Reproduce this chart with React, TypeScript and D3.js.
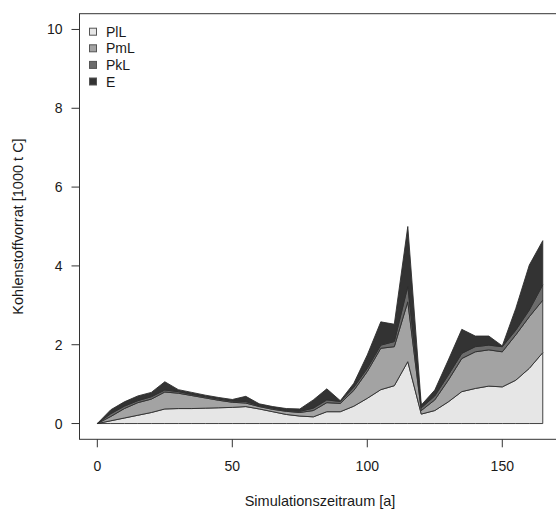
import React from "react";
import * as d3 from "d3";

// Simulation years (every 5 years)
const years = [
  0, 5, 10, 15, 20, 25, 30, 35, 40, 45, 50, 55, 60, 65, 70, 75, 80, 85, 90, 95,
  100, 105, 110, 115, 120, 125, 130, 135, 140, 145, 150, 155, 160, 165,
];

// Carbon stock per pool [1000 t C]
const PlL = [
  0, 0.07, 0.14, 0.21, 0.28, 0.37, 0.38, 0.38, 0.39, 0.4, 0.41, 0.43, 0.37, 0.3,
  0.23, 0.19, 0.17, 0.3, 0.3, 0.44, 0.64, 0.86, 0.96, 1.57, 0.24, 0.33, 0.55,
  0.81, 0.89, 0.95, 0.93, 1.1, 1.4, 1.8,
];
const PmL = [
  0, 0.11, 0.24, 0.32, 0.34, 0.43, 0.39, 0.33, 0.26, 0.19, 0.13, 0.09, 0.06,
  0.06, 0.08, 0.09, 0.16, 0.23, 0.21, 0.4, 0.68, 1.05, 0.99, 1.52, 0.09, 0.27,
  0.55, 0.84, 0.93, 0.92, 0.89, 1.15, 1.31, 1.33,
];
const PkL = [
  0, 0.07, 0.06, 0.05, 0.06, 0.05, 0.04, 0.03, 0.03, 0.03, 0.03, 0.04, 0.02,
  0.03, 0.02, 0.03, 0.06, 0.07, 0.05, 0.08, 0.08, 0.08, 0.13, 0.39, 0.07, 0.1,
  0.13, 0.13, 0.13, 0.12, 0.13, 0.12, 0.17, 0.39,
];
const E = [
  0, 0.1, 0.11, 0.12, 0.11, 0.21, 0.05, 0.05, 0.04, 0.04, 0.04, 0.13, 0.05,
  0.04, 0.05, 0.06, 0.21, 0.28, 0.02, 0.1, 0.34, 0.59, 0.44, 1.52, 0.07, 0.15,
  0.38, 0.61, 0.27, 0.23, 0.02, 0.55, 1.14, 1.12,
];

const seriesNames = ["PlL", "PmL", "PkL", "E"];
const seriesColors = ["#e6e6e6", "#a3a3a3", "#6b6b6b", "#333333"];

const xTicks = [0, 50, 100, 150];
const yTicks = [0, 2, 4, 6, 8, 10];

const W = 556;
const H = 512;
const font = "'Liberation Sans', Arial, Helvetica, sans-serif";

export default function App() {
  const x = d3.scaleLinear().domain([-6.6, 171.6]).range([79.5, 560.6]);
  const y = d3.scaleLinear().domain([-0.4, 10.4]).range([439.3, 13.7]);

  const rows = years.map((t, i) => ({
    t,
    PlL: PlL[i],
    PmL: PmL[i],
    PkL: PkL[i],
    E: E[i],
  }));
  const stacked = d3.stack<any>().keys(seriesNames)(rows);

  const area = d3
    .area<any>()
    .x((d) => x(d.data.t))
    .y0((d) => y(d[0]))
    .y1((d) => y(d[1]));

  const left = x.range()[0];
  const right = x.range()[1];
  const top = y.range()[1];
  const bottom = y.range()[0];

  return (
    <svg
      width={W}
      height={H}
      style={{ position: "absolute", left: 0, top: 0, background: "#fff" }}
      fontFamily={font}
    >
      {/* stacked pools, drawn bottom to top */}
      {stacked.map((layer, i) => (
        <path
          key={layer.key}
          d={(area(layer) || "") + "Z"}
          fill={seriesColors[i]}
          stroke="#2e2e2e"
          strokeWidth={0.9}
          strokeLinejoin="miter"
        />
      ))}

      {/* plot frame */}
      <rect
        x={left}
        y={top}
        width={right - left}
        height={bottom - top}
        fill="none"
        stroke="#333"
        strokeWidth={1}
      />

      {/* y axis */}
      {yTicks.map((v) => (
        <g key={"y" + v}>
          <line
            x1={left - 8}
            x2={left}
            y1={y(v)}
            y2={y(v)}
            stroke="#333"
            strokeWidth={1}
          />
          <text
            x={left - 17}
            y={y(v)}
            textAnchor="end"
            dominantBaseline="central"
            fontSize={14}
            fill="#1a1a1a"
          >
            {v}
          </text>
        </g>
      ))}

      {/* x axis */}
      {xTicks.map((v) => (
        <g key={"x" + v}>
          <line
            x1={x(v)}
            x2={x(v)}
            y1={bottom}
            y2={bottom + 8}
            stroke="#333"
            strokeWidth={1}
          />
          <text
            x={x(v)}
            y={bottom + 27}
            textAnchor="middle"
            dominantBaseline="central"
            fontSize={14}
            fill="#1a1a1a"
          >
            {v}
          </text>
        </g>
      ))}

      <text
        x={(left + right) / 2}
        y={501}
        textAnchor="middle"
        dominantBaseline="central"
        fontSize={14.5}
        fill="#1a1a1a"
      >
        Simulationszeitraum [a]
      </text>
      <text
        transform={`translate(18,${(top + bottom) / 2}) rotate(-90)`}
        textAnchor="middle"
        dominantBaseline="central"
        fontSize={14.5}
        fill="#1a1a1a"
      >
        Kohlenstoffvorrat [1000 t C]
      </text>

      {/* legend */}
      {seriesNames.map((name, i) => {
        const cy = 31.7 + i * 16.6;
        return (
          <g key={"lg" + name}>
            <rect
              x={89.5}
              y={cy - 3.5}
              width={7}
              height={7}
              fill={seriesColors[i]}
              stroke="#555"
              strokeWidth={1}
            />
            <text
              x={106}
              y={cy}
              dominantBaseline="central"
              fontSize={14}
              fill="#1a1a1a"
            >
              {name}
            </text>
          </g>
        );
      })}
    </svg>
  );
}
